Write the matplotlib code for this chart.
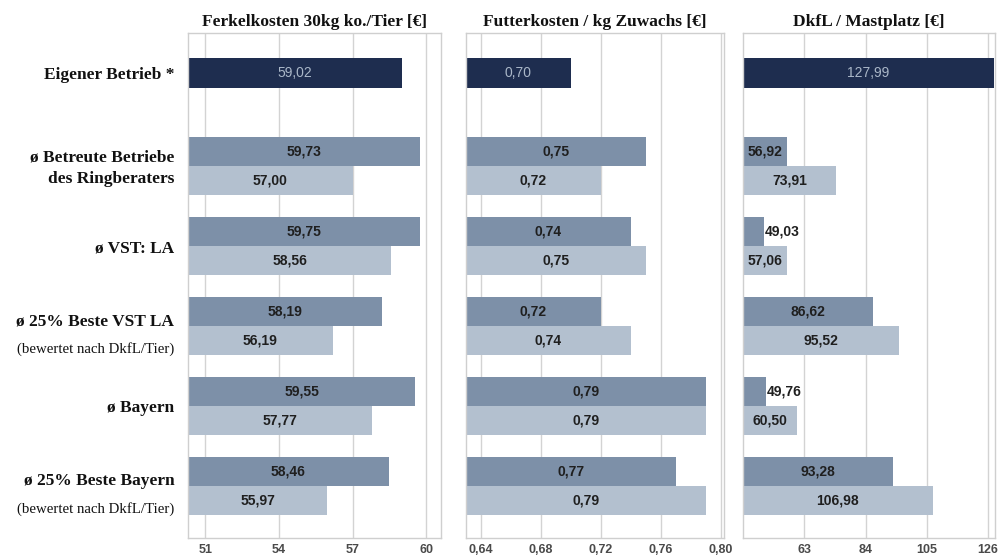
import matplotlib.pyplot as plt
import numpy as np

# Kennzahlen je Vergleichsgruppe
gruppen = [
    "Eigener Betrieb *",
    "ø Betreute Betriebe\ndes Ringberaters",
    "ø VST: LA",
    "ø 25% Beste VST LA",
    "ø Bayern",
    "ø 25% Beste Bayern",
]
untertitel = ["", "", "", "(bewertet nach DkfL/Tier)", "", "(bewertet nach DkfL/Tier)"]

titel = ["Ferkelkosten 30kg ko./Tier [€]", "Futterkosten / kg Zuwachs [€]", "DkfL / Mastplatz [€]"]

# eigener Betrieb (ein Balken)
eigen = [59.02, 0.70, 127.99]
# Vergleichsgruppen: oberer (dunkler) und unterer (heller) Balken
ferkel_oben = [59.73, 59.75, 58.19, 59.55, 58.46]
ferkel_unten = [57.00, 58.56, 56.19, 57.77, 55.97]
futter_oben = [0.75, 0.74, 0.72, 0.79, 0.77]
futter_unten = [0.72, 0.75, 0.74, 0.79, 0.79]
dkfl_oben = [56.92, 49.03, 86.62, 49.76, 93.28]
dkfl_unten = [73.91, 57.06, 95.52, 60.50, 106.98]

ticks = [[51, 54, 57, 60], [0.64, 0.68, 0.72, 0.76, 0.80], [63, 84, 105, 126]]
nachkomma = [0, 2, 0]
xlims = [(50.3, 60.6), (0.63, 0.802), (42, 128.4)]

NAVY = "#1e2d4f"
MITTEL = "#7d90a8"
HELL = "#b3c0cf"

oben = [ferkel_oben, futter_oben, dkfl_oben]
unten = [ferkel_unten, futter_unten, dkfl_unten]

# y-Positionen: eigener Betrieb oben, danach Gruppen im festen Abstand
y_eigen = 0.0
y_gruppen = 1.16 + np.arange(5)
h = 0.365


def fmt(v, d):
    return f"{v:.{d}f}".replace(".", ",")


fig = plt.figure(figsize=(9.98, 5.57), dpi=100)
fig.patch.set_facecolor("white")

ax_pos = [(0.1885, 0.2535), (0.467, 0.258), (0.7445, 0.2525)]
unten_y, hoehe = 0.034, 0.907

for i in range(3):
    ax = fig.add_axes([ax_pos[i][0], unten_y, ax_pos[i][1], hoehe])
    x0, x1 = xlims[i]
    ax.set_xlim(x0, x1)
    ax.set_ylim(5.81, -0.5)
    ax.set_yticks([])
    ax.set_xticks(ticks[i])
    ax.set_xticklabels([fmt(t, nachkomma[i]) for t in ticks[i]],
                       fontsize=9, fontweight="bold", color="#4a4a4a", family="Liberation Sans")
    ax.tick_params(axis="x", length=0, pad=4)
    ax.grid(axis="x", color="#d3d3d3", linewidth=1)
    ax.set_axisbelow(True)
    for s in ax.spines.values():
        s.set_color("#cfcfcf")
        s.set_linewidth(1)

    spanne = x1 - x0
    d = 2

    # eigener Betrieb
    ax.barh(y_eigen, eigen[i] - x0, left=x0, height=h, color=NAVY, edgecolor="none")
    ax.text(x0 + (eigen[i] - x0) / 2, y_eigen, fmt(eigen[i], d), ha="center", va="center",
            fontsize=10, color="#aab7c8", family="Liberation Sans")

    for werte, farbe, dy in [(oben[i], MITTEL, -h / 2), (unten[i], HELL, h / 2)]:
        yy = y_gruppen + dy
        ax.barh(yy, np.array(werte) - x0, left=x0, height=h, color=farbe, edgecolor="none")
        for y, v in zip(yy, werte):
            if (v - x0) / spanne < 0.12:
                ax.text(v + spanne * 0.003, y, fmt(v, d), ha="left", va="center",
                        fontsize=10, fontweight="bold", color="#1f1f1f", family="Liberation Sans")
            else:
                ax.text(x0 + (v - x0) / 2, y, fmt(v, d), ha="center", va="center",
                        fontsize=10, fontweight="bold", color="#1f1f1f", family="Liberation Sans")

    ax.set_title(titel[i], fontsize=12.5, fontweight="bold", family="Liberation Serif",
                 color="#111111", pad=5)

    if i == 0:
        for y, g, u in zip([y_eigen] + list(y_gruppen), gruppen, untertitel):
            if u:
                ax.text(-0.055, y - 0.06, g, transform=ax.get_yaxis_transform(),
                        ha="right", va="center", fontsize=12.5, fontweight="bold",
                        family="Liberation Serif", color="#111111")
                ax.text(-0.055, y + 0.29, u, transform=ax.get_yaxis_transform(),
                        ha="right", va="center", fontsize=10.7,
                        family="Liberation Serif", color="#111111")
            else:
                ax.text(-0.055, y + 0.03, g, transform=ax.get_yaxis_transform(),
                        ha="right", va="center", fontsize=12.5, fontweight="bold",
                        family="Liberation Serif", color="#111111", linespacing=1.5)

fig.savefig("out.png", dpi=100, facecolor="white")
